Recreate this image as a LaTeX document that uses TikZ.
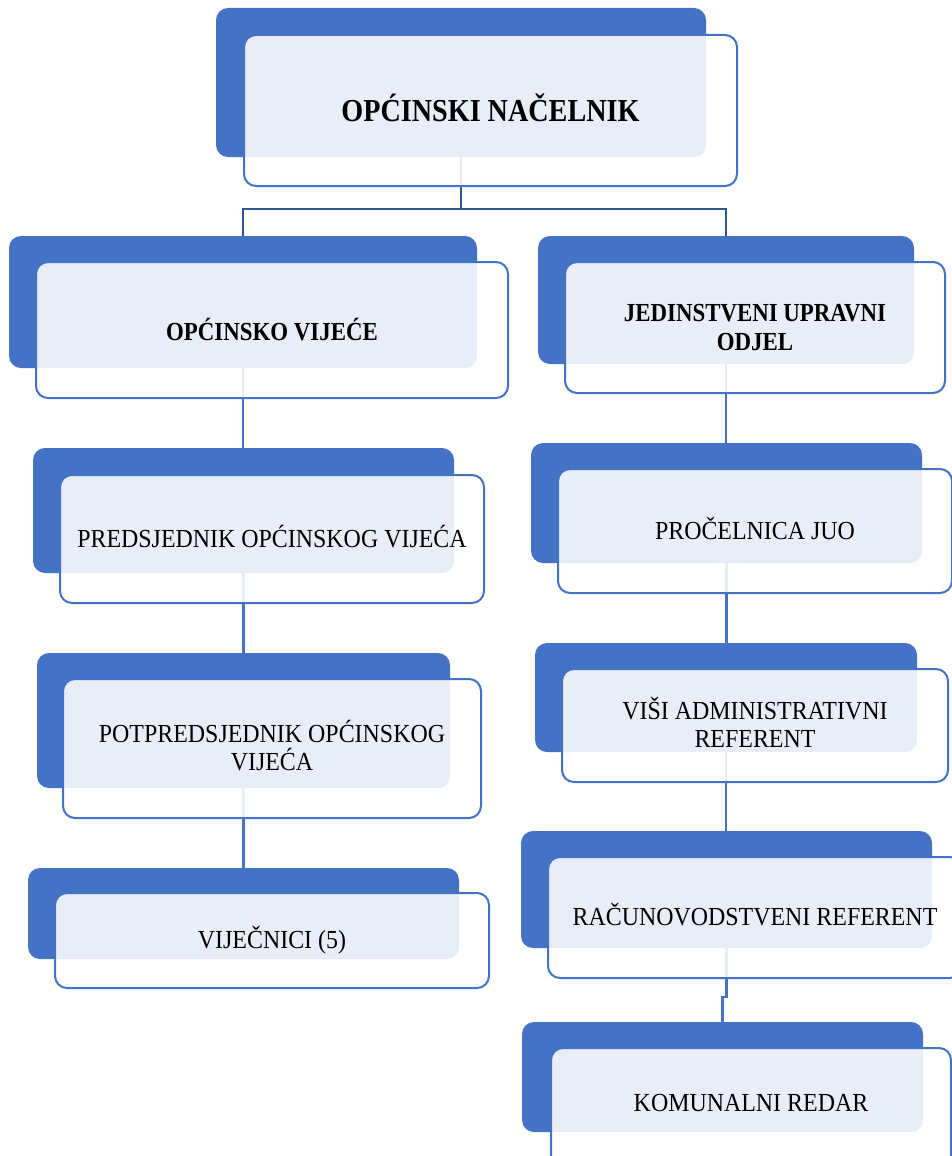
\documentclass[tikz,border=0pt]{standalone}
\usepackage{fontspec}
\setmainfont{Liberation Serif}
\newfontfamily\condfont{Liberation Serif}[FakeStretch=0.88]
\newfontfamily\regfont{Liberation Serif}[FakeStretch=0.92]
\newcommand\regtext{\regfont\fontsize{26}{27.5}\selectfont}
\newcommand\lvltwo{\condfont\bfseries\fontsize{26}{29}\selectfont}
\newcommand\toptext{\condfont\bfseries\fontsize{32}{36}\selectfont}
\newcommand\lowpad{\rule[-6pt]{0pt}{6pt}}
\definecolor{accblue}{HTML}{4472C4}
\definecolor{darkblue}{HTML}{2F5597}
\tikzset{
  backbox/.style={rectangle, rounded corners=12pt, fill=accblue, draw=none, inner sep=0pt},
  frontbox/.style={rectangle, rounded corners=12pt, fill=white, fill opacity=0.88, text opacity=1,
    draw=accblue, draw opacity=1, line width=2pt, inner sep=0pt, align=center, font=\regtext, text=black},
  link/.style={draw=accblue, line width=2.2pt},
  toplink/.style={draw=darkblue, line width=2pt},
}
\begin{document}
\begin{tikzpicture}[x=1pt,y=-1pt]
\useasboundingbox (0,0) rectangle (952,1156);
\clip (0,0) rectangle (952,1156);
\fill[white] (0,0) rectangle (952,1156);
% back boxes
\node[backbox, minimum width=490pt, minimum height=149pt] (top) at (461,82.5) {};
\node[backbox, minimum width=468pt, minimum height=132pt] (ov) at (243,302) {};
\node[backbox, minimum width=421pt, minimum height=125pt] (pr) at (243.5,510.5) {};
\node[backbox, minimum width=413pt, minimum height=135pt] (pp) at (243.5,720.5) {};
\node[backbox, minimum width=431pt, minimum height=91pt] (vi) at (243.5,913.5) {};
\node[backbox, minimum width=376pt, minimum height=128pt] (ju) at (726,300) {};
\node[backbox, minimum width=391pt, minimum height=120pt] (pc) at (726.5,503) {};
\node[backbox, minimum width=382pt, minimum height=109pt] (vs) at (726,697.5) {};
\node[backbox, minimum width=411pt, minimum height=117pt] (ra) at (726.5,889.5) {};
\node[backbox, minimum width=401pt, minimum height=110pt] (ko) at (722.5,1077) {};
% connectors
\coordinate (hub) at (461,209);
\draw[toplink] (top.south) -- (hub);
\draw[toplink] (ov.north) |- (hub) -| (ju.north);
\draw[link] (ov.south) -- (ov.south |- pr.north);
\draw[link] (pr.south) -- (pr.south |- pp.north);
\draw[link] (pp.south) -- (pp.south |- vi.north);
\draw[link] (ju.south) -- (ju.south |- pc.north);
\draw[link] (pc.south) -- (pc.south |- vs.north);
\draw[link] (vs.south) -- (vs.south |- ra.north);
\draw[link] (ra.south) -- ++(0,49) -| (ko.north);
% front boxes
\node[frontbox, font=\toptext, minimum width=493pt, minimum height=151pt] (topf) at (490.5,110.5) {OPĆINSKI NAČELNIK\lowpad};
\node[frontbox, font=\lvltwo, minimum width=472pt, minimum height=136pt] (ovf) at (272,330) {OPĆINSKO VIJEĆE};
\node[frontbox, minimum width=424pt, minimum height=128pt] (prf) at (272,539) {PREDSJEDNIK OPĆINSKOG VIJEĆA\lowpad};
\node[frontbox, minimum width=418pt, minimum height=139pt] (ppf) at (272,748.5) {POTPREDSJEDNIK OPĆINSKOG\\VIJEĆA\lowpad};
\node[frontbox, minimum width=434pt, minimum height=95pt] (vif) at (272,940.5) {VIJEČNICI (5)};
\node[frontbox, font=\lvltwo, minimum width=380pt, minimum height=131pt] (juf) at (755,327.5) {JEDINSTVENI UPRAVNI\\ODJEL};
\node[frontbox, minimum width=394pt, minimum height=124pt] (pcf) at (755,531) {PROČELNICA JUO\lowpad};
\node[frontbox, minimum width=386pt, minimum height=113pt] (vsf) at (755,725.5) {VIŠI ADMINISTRATIVNI\\REFERENT\lowpad};
\node[frontbox, minimum width=414pt, minimum height=121pt] (raf) at (755,917.5) {RAČUNOVODSTVENI REFERENT\lowpad};
\node[frontbox, minimum width=400pt, minimum height=126pt] (kof) at (751,1111) {};
\node[font=\regtext, inner sep=0pt] (kot) at (751,1103) {KOMUNALNI REDAR};
\end{tikzpicture}
\end{document}
